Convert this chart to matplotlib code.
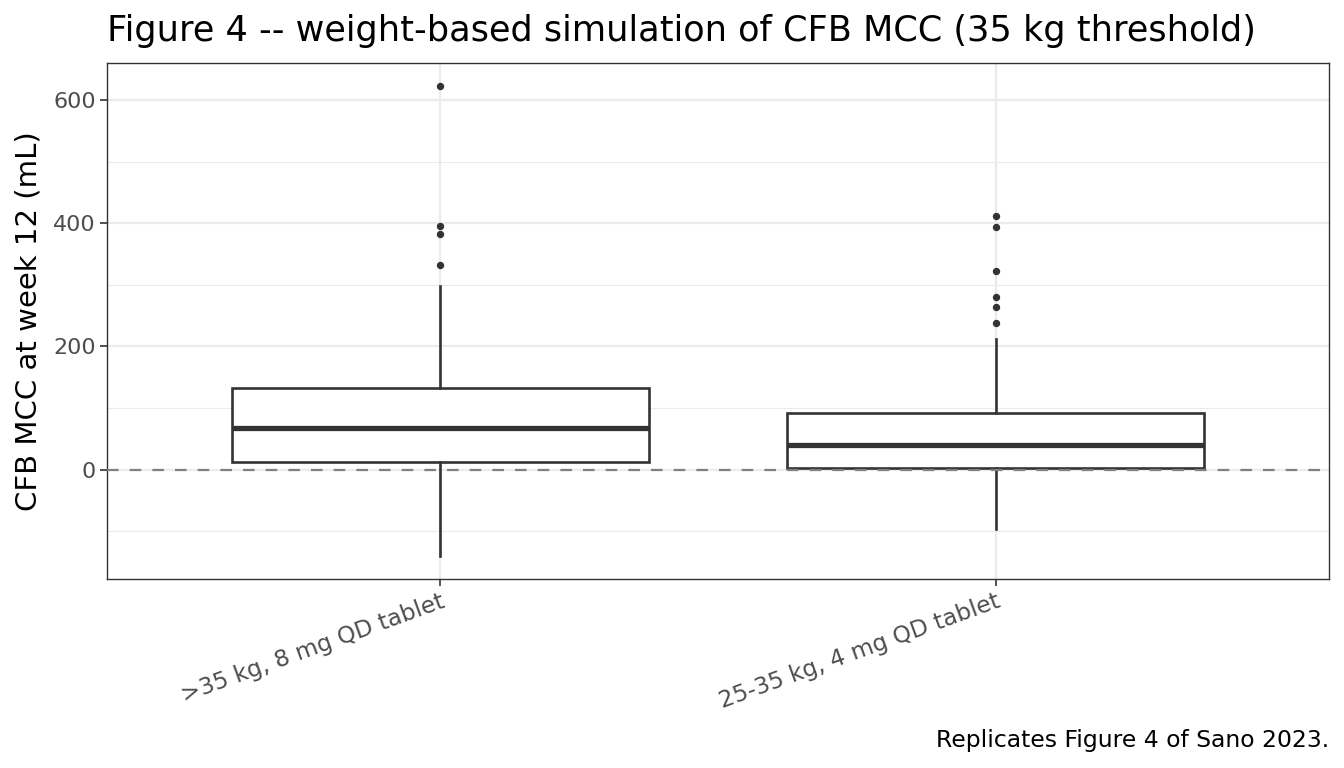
import matplotlib
matplotlib.use("Agg")
import matplotlib.pyplot as plt
from matplotlib.ticker import MultipleLocator

# values
groups = [">35 kg, 8 mg QD tablet", "25-35 kg, 4 mg QD tablet"]
q1 = [12.6, 2.2]
median = [67.8, 40.4]
q3 = [131.8, 92.2]
whisker_low = [-139.5, -96.5]
whisker_high = [298.0, 212.4]
outliers = [
    [621.9, 395.4, 382.3, 331.5],
    [412.4, 393.5, 321.8, 280.9, 264.7, 238.3],
]

plt.rcParams['font.family'] = ['DejaVu Sans']

fig = plt.figure(figsize=(13.44, 7.68), dpi=100)
ax = fig.add_axes([107 / 1344, 1 - 579 / 768, (1329 - 107) / 1344, (579 - 63) / 768])

stats = []
for i, g in enumerate(groups):
    stats.append({
        "label": g, "q1": q1[i], "med": median[i], "q3": q3[i],
        "whislo": whisker_low[i], "whishi": whisker_high[i], "fliers": outliers[i],
    })

dark = "#333333"
ax.bxp(stats, positions=[1, 2], widths=0.75, showcaps=False, patch_artist=True,
       boxprops=dict(facecolor="white", edgecolor=dark, linewidth=1.9),
       medianprops=dict(color=dark, linewidth=3.8, solid_capstyle="butt"),
       whiskerprops=dict(color=dark, linewidth=1.9),
       flierprops=dict(marker="o", markersize=4.3, markerfacecolor=dark,
                       markeredgecolor=dark),
       zorder=3)

ax.axhline(0, color="#808080", linestyle=(0, (5.2, 5.0)), linewidth=1.6, zorder=4)

ax.set_xlim(0.4, 2.6)
ax.set_ylim(-177.6, 660)
ax.yaxis.set_major_locator(MultipleLocator(200))
ax.yaxis.set_minor_locator(MultipleLocator(100))
ax.set_xticks([1, 2])
ax.set_xticklabels(groups, rotation=20, ha="right", rotation_mode="anchor")

ax.grid(True, which="major", color="#EBEBEB", linewidth=1.6, zorder=0)
ax.grid(True, which="minor", axis="y", color="#EBEBEB", linewidth=0.8, zorder=0)
ax.set_axisbelow(True)
ax.tick_params(which="minor", length=0)
ax.tick_params(which="major", length=5, width=1.2, color=dark,
               labelsize=16, labelcolor="#4D4D4D", pad=3)
ax.tick_params(axis="x", labelsize=16.8)
for s in ax.spines.values():
    s.set_color(dark)
    s.set_linewidth(1.0)

ax.set_ylabel("CFB MCC at week 12 (mL)", fontsize=21, color="black", labelpad=8)
ax.set_title("Figure 4 -- weight-based simulation of CFB MCC (35 kg threshold)",
             fontsize=25.3, loc="left", pad=16)
fig.text(1329 / 1344, 1 - 740 / 768, "Replicates Figure 4 of Sano 2023.",
         ha="right", va="center", fontsize=16.9)

fig.savefig("out.png", dpi=100)
